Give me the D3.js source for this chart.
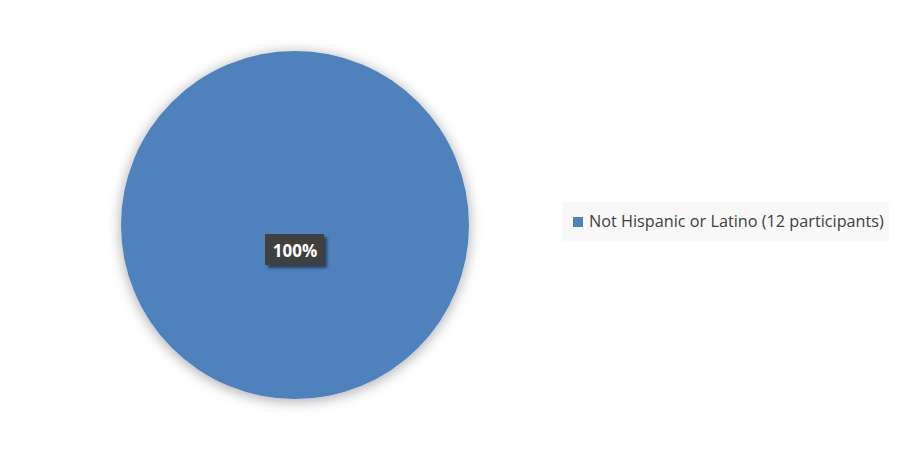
<!DOCTYPE html>
<html lang="en">
<head>
  <meta charset="utf-8">
  <title>pie</title>
  <script src="https://d3js.org/d3.v7.min.js"></script>
  <style>
    body { margin: 0; background: #fff; }
    text { font-family: "Open Sans", "Liberation Sans", sans-serif; }
  </style>
</head>
<body>
  <script>
    // data
    const categories = ["Not Hispanic or Latino (12 participants)"];
    const counts = [12];
    const colors = ["#4f81bd"];

    const width = 900, height = 450;
    const cx = 295, cy = 225, radius = 174;

    const svg = d3.select("body").append("svg")
      .attr("width", width).attr("height", height);

    const defs = svg.append("defs");
    const shadow = defs.append("filter").attr("id", "pieShadow")
      .attr("x", "-20%").attr("y", "-20%").attr("width", "140%").attr("height", "140%");
    shadow.append("feGaussianBlur").attr("in", "SourceAlpha").attr("stdDeviation", 7);
    shadow.append("feOffset").attr("dx", 0).attr("dy", 2).attr("result", "b");
    shadow.append("feComponentTransfer").append("feFuncA").attr("type", "linear").attr("slope", 0.35);
    const m = shadow.append("feMerge");
    m.append("feMergeNode");
    m.append("feMergeNode").attr("in", "SourceGraphic");

    const boxShadow = defs.append("filter").attr("id", "boxShadow")
      .attr("x", "-20%").attr("y", "-30%").attr("width", "150%").attr("height", "180%");
    boxShadow.append("feGaussianBlur").attr("in", "SourceAlpha").attr("stdDeviation", 1.5);
    boxShadow.append("feOffset").attr("dx", 3).attr("dy", 3);
    boxShadow.append("feComponentTransfer").append("feFuncA").attr("type", "linear").attr("slope", 0.5);
    const m2 = boxShadow.append("feMerge");
    m2.append("feMergeNode");
    m2.append("feMergeNode").attr("in", "SourceGraphic");

    const total = d3.sum(counts);
    const pie = d3.pie().sort(null)(counts);
    const arc = d3.arc().innerRadius(0).outerRadius(radius);

    const g = svg.append("g").attr("transform", `translate(${cx},${cy})`);
    g.selectAll("path").data(pie).join("path")
      .attr("d", arc)
      .attr("fill", (d, i) => colors[i])
      .attr("filter", "url(#pieShadow)");

    // data labels
    const pct = d3.format(".0%");
    const labelG = g.selectAll("g.lbl").data(pie).join("g").attr("class", "lbl")
      .attr("transform", d => counts.length === 1 ? "translate(0,26)" : `translate(${arc.centroid(d)})`);
    labelG.append("rect")
      .attr("x", -30).attr("y", -17).attr("width", 59).attr("height", 31)
      .attr("fill", "#404040")
      .attr("filter", "url(#boxShadow)");
    labelG.append("text")
      .attr("text-anchor", "middle").attr("y", 6)
      .attr("fill", "#fff").attr("font-weight", "bold").attr("font-size", 17)
      .text(d => pct(d.value / total));

    // legend
    const legend = svg.append("g").attr("transform", "translate(562,202)");
    legend.append("rect").attr("width", 327).attr("height", 39).attr("fill", "#f8f8f8");
    const items = legend.selectAll("g.item").data(categories).join("g").attr("class", "item");
    items.append("rect").attr("x", 11).attr("y", 15).attr("width", 10).attr("height", 10)
      .attr("fill", (d, i) => colors[i]);
    const lt = items.append("text").attr("x", 27).attr("y", 25)
      .attr("fill", "#404040").attr("font-size", 16).text(d => d);
    // fit text width to reference (~295px)
    lt.each(function () {
      const w = this.getComputedTextLength();
      d3.select(this).attr("font-size", 16 * 295 / w);
    });
  </script>
</body>
</html>
